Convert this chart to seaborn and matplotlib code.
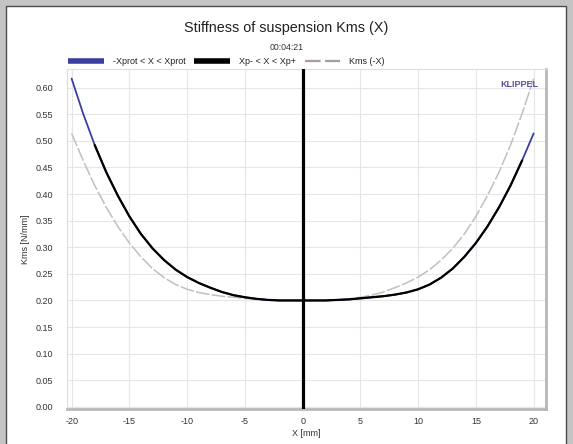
import numpy as np
import pandas as pd
import matplotlib
matplotlib.use("Agg")
import matplotlib.pyplot as plt
from matplotlib.lines import Line2D
from matplotlib.patches import Rectangle
import seaborn as sns

# ---- data ----
x_mm = list(range(-20, 21))
kms = [0.617, 0.551, 0.492, 0.441, 0.397, 0.358, 0.325, 0.298, 0.276, 0.258,
       0.244, 0.233, 0.224, 0.216, 0.210, 0.206, 0.203, 0.201, 0.200, 0.200,
       0.200,
       0.200, 0.200, 0.201, 0.202, 0.204, 0.206, 0.208, 0.211, 0.215, 0.221,
       0.230, 0.243, 0.260, 0.282, 0.308, 0.339, 0.375, 0.416, 0.463, 0.514]
kms_neg = [0.514, 0.463, 0.416, 0.375, 0.339, 0.308, 0.282, 0.260, 0.243, 0.230,
           0.221, 0.215, 0.211, 0.208, 0.206, 0.204, 0.202, 0.201, 0.200, 0.200,
           0.200,
           0.200, 0.200, 0.201, 0.203, 0.206, 0.210, 0.216, 0.224, 0.233, 0.244,
           0.258, 0.276, 0.298, 0.325, 0.358, 0.397, 0.441, 0.492, 0.551, 0.617]
xp_minus, xp_plus = -18, 19
x_ticks = [-20, -15, -10, -5, 0, 5, 10, 15, 20]
y_ticks = [0.00, 0.05, 0.10, 0.15, 0.20, 0.25, 0.30, 0.35, 0.40, 0.45, 0.50, 0.55, 0.60]
legend_labels = ["-Xprot < X < Xprot", "Xp- < X < Xp+", "Kms (-X)"]

df = pd.DataFrame({"x": x_mm, "kms": kms, "kms_neg": kms_neg})
df_xp = df[(df["x"] >= xp_minus) & (df["x"] <= xp_plus)]

sns.set_theme(style="white")
plt.rcParams["font.family"] = ["Liberation Sans", "DejaVu Sans"]

fig = plt.figure(figsize=(5.73, 4.44), dpi=100)
fig.patch.set_facecolor("#c4c4c4")
# white inner panel
fig.add_artist(Rectangle((6 / 573, -0.01), 560 / 573, 1 - 6 / 444 + 0.01,
                         transform=fig.transFigure, facecolor="white",
                         edgecolor="#4a4a4a", lw=1.0, zorder=0))

ax = fig.add_axes([67 / 573, 1 - 409 / 444, (546 - 67) / 573, (409 - 69) / 444])
ax.set_facecolor("white")

BLUE = "#3a3fa0"
GRAY = "#c8bcbc"

sns.lineplot(data=df, x="x", y="kms_neg", ax=ax, color=GRAY, lw=1.1, zorder=2)
ax.lines[-1].set_dashes([9, 1.5])
sns.lineplot(data=df, x="x", y="kms", ax=ax, color=BLUE, lw=1.3, zorder=3)
sns.lineplot(data=df_xp, x="x", y="kms", ax=ax, color="black", lw=1.6, zorder=4)
ax.axvline(0, color="black", lw=2.3, zorder=5)

ax.set_xlim(-20.4, 21.07)
ax.set_ylim(-0.004, 0.635)
ax.set_xticks(x_ticks)
ax.set_yticks(y_ticks)
ax.set_xticklabels([str(t) for t in x_ticks])
ax.set_yticklabels([f"{t:.2f}" for t in y_ticks])
ax.tick_params(axis="x", labelsize=6.5, colors="#333333", length=0, pad=6)
ax.tick_params(axis="y", labelsize=6.5, colors="#333333", length=0, pad=10)
ax.grid(True, color="#e6e6e6", lw=0.8)
for s in ["left", "top"]:
    ax.spines[s].set_color("#dddddd")
    ax.spines[s].set_linewidth(0.8)
for s in ["right", "bottom"]:
    ax.spines[s].set_color("#b8b8b8")
    ax.spines[s].set_linewidth(2.0)

ax.set_xlabel("X [mm]", fontsize=6.5, color="#333333", labelpad=2)
ax.set_ylabel("Kms [N/mm]", fontsize=6.5, color="#333333", labelpad=4)

ax.text(0.985, 0.955, "KLIPPEL", transform=ax.transAxes, ha="right", va="center",
        fontsize=6.5, color="#5a50a8", fontweight="bold")

fig.text(0.5, 1 - 28 / 444, "Stiffness of suspension Kms (X)", ha="center",
         va="center", fontsize=10.4, color="#222222")
fig.text(0.5, 1 - 47 / 444, "00:04:21", ha="center", va="center",
         fontsize=6.3, color="#333333")

handles = [Line2D([], [], color=BLUE, lw=4, solid_capstyle="butt"),
           Line2D([], [], color="black", lw=4, solid_capstyle="butt"),
           Line2D([], [], color="#a89c9c", lw=1.6, dashes=[7, 2],
                  dash_capstyle="butt")]
fig.legend(handles, legend_labels, loc="center", ncol=3,
           bbox_to_anchor=(0.395, 1 - 62 / 444), frameon=False, fontsize=6.5,
           handlelength=3.9, columnspacing=1.0, handletextpad=1.0,
           labelcolor="#222222")

fig.savefig("out.png", dpi=100, facecolor=fig.get_facecolor())
